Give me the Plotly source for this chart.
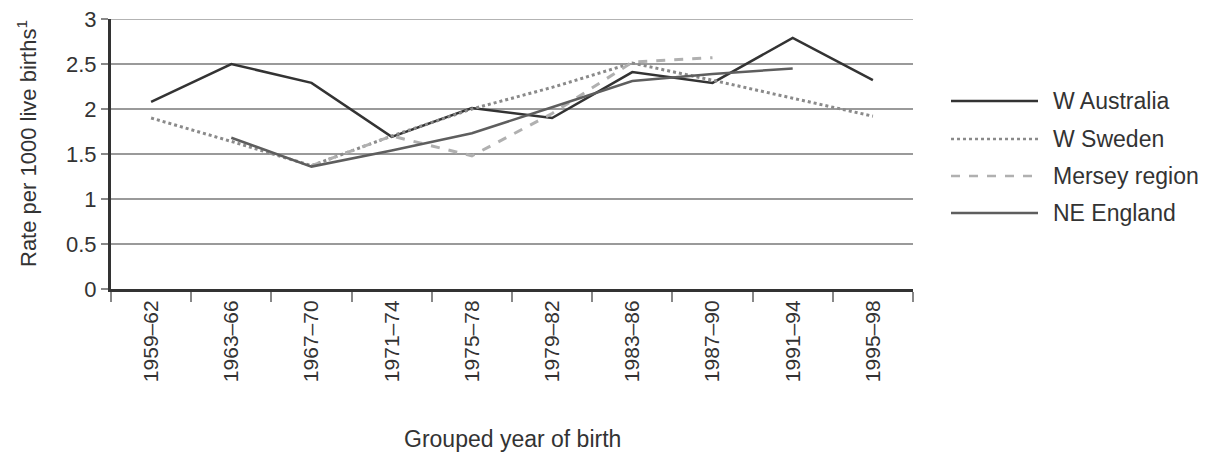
import plotly.graph_objects as go

categories = ["1959–62", "1963–66", "1967–70", "1971–74", "1975–78",
              "1979–82", "1983–86", "1987–90", "1991–94", "1995–98"]
w_australia = [2.08, 2.50, 2.29, 1.69, 2.01, 1.90, 2.41, 2.29, 2.79, 2.32]
w_sweden = [1.90, 1.64, 1.37, 1.70, 2.00, 2.24, 2.51, 2.32, 2.12, 1.92]
mersey = [None, None, 1.37, 1.70, 1.48, 1.95, 2.52, 2.57, None, None]
ne_england = [None, 1.68, 1.36, 1.54, 1.73, 2.02, 2.31, 2.39, 2.45, None]

series_names = ["W Australia", "W Sweden", "Mersey region", "NE England"]
series_values = [w_australia, w_sweden, mersey, ne_england]
series_colors = ["#333333", "#8a8a8a", "#b0b0b0", "#5e5e5e"]
series_dash = ["solid", "dot", "dash", "solid"]
series_width = [2.5, 3, 3, 2.5]

FONT = "Liberation Sans, Arial, sans-serif"
TXT = "#333333"

# page body margin offset (browser default 8px)
OFF = 8
W, H = 1221 - OFF, 454 - OFF
# plot area in screenshot pixels
L, R, T, B = 111, 913, 19, 289
PW, PH = R - L, B - T

def px_x(x):
    return (x - L) / PW

def px_y(y):
    return (B - y) / PH

fig = go.Figure()
for name, vals, col, dash, w in zip(series_names, series_values, series_colors, series_dash, series_width):
    fig.add_trace(go.Scatter(x=categories, y=vals, mode="lines", name=name,
                             line=dict(color=col, dash=dash, width=w),
                             connectgaps=False, showlegend=False))

# manual legend
leg_y = [101, 139, 176, 213]
for name, col, dash, w, yy in zip(series_names, series_colors, series_dash, series_width, leg_y):
    fig.add_shape(type="line", xref="paper", yref="paper",
                  x0=px_x(951), x1=px_x(1038), y0=px_y(yy), y1=px_y(yy),
                  line=dict(color=col, dash=dash, width=w if dash == "solid" else 2.5))
    fig.add_annotation(text=name, xref="paper", yref="paper",
                       x=px_x(1051), y=px_y(yy),
                       xanchor="left", yanchor="middle", showarrow=False,
                       font=dict(size=23, color=TXT, family=FONT))

# axis titles
fig.add_annotation(text="Grouped year of birth", xref="paper", yref="paper",
                   x=0.5, y=px_y(439), xanchor="center", yanchor="middle",
                   showarrow=False, font=dict(size=23, color=TXT, family=FONT))
fig.add_annotation(text="Rate per 1000 live births<sup>1</sup>", xref="paper", yref="paper",
                   x=px_x(27), y=px_y(144), xanchor="center", yanchor="middle",
                   textangle=-90, showarrow=False, font=dict(size=22, color=TXT, family=FONT))

fig.update_layout(
    width=W, height=H,
    margin=dict(l=L - OFF, r=1221 - R, t=T - OFF, b=454 - B, autoexpand=False),
    paper_bgcolor="white", plot_bgcolor="white",
    font=dict(family=FONT, size=21, color=TXT),
    showlegend=False,
)
fig.update_xaxes(
    type="category", tickson="boundaries", showgrid=False,
    showline=True, linewidth=3, linecolor="#333333",
    ticks="outside", ticklen=10, tickwidth=1.5, tickcolor="#888888",
    tickangle=-90, tickfont=dict(size=21, color=TXT, family=FONT),
    range=[-0.5, 9.5], automargin=False, ticklabeloverflow="allow",
)
fig.update_yaxes(
    range=[0, 3], tickvals=[0, 0.5, 1, 1.5, 2, 2.5, 3],
    ticktext=["0", "0.5", "1", "1.5", "2", "2.5", "3"],
    showgrid=True, gridcolor="#9a9a9a", gridwidth=1.5,
    showline=True, linewidth=3, linecolor="#333333",
    ticks="outside", ticklen=7, tickwidth=1.5, tickcolor="#888888",
    tickfont=dict(size=22, color=TXT, family=FONT),
    zeroline=False, automargin=False, ticklabeloverflow="allow",
)
fig.add_shape(type="line", xref="paper", yref="y", x0=0, x1=1, y0=3, y1=3,
              line=dict(color="#9a9a9a", width=1.5), layer="below")

fig.write_html("out.html")
